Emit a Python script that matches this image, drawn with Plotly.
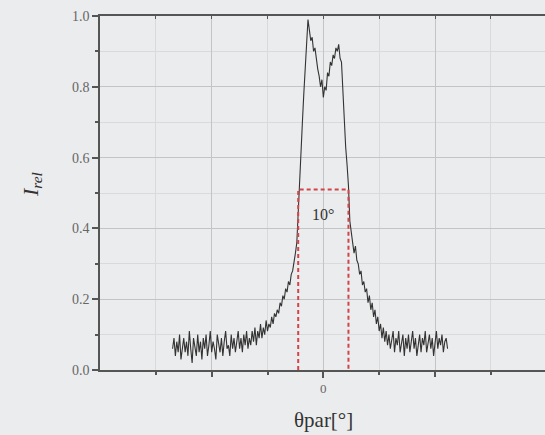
import plotly.graph_objects as go

# Angle samples (degrees) and relative intensity, rows of 8
theta = [
    -27.0, -26.75, -26.5, -26.25, -26.0, -25.75, -25.5, -25.25,
    -25.0, -24.75, -24.5, -24.25, -24.0, -23.75, -23.5, -23.25,
    -23.0, -22.75, -22.5, -22.25, -22.0, -21.75, -21.5, -21.25,
    -21.0, -20.75, -20.5, -20.25, -20.0, -19.75, -19.5, -19.25,
    -19.0, -18.75, -18.5, -18.25, -18.0, -17.75, -17.5, -17.25,
    -17.0, -16.75, -16.5, -16.25, -16.0, -15.75, -15.5, -15.25,
    -15.0, -14.75, -14.5, -14.25, -14.0, -13.75, -13.5, -13.25,
    -13.0, -12.75, -12.5, -12.25, -12.0, -11.75, -11.5, -11.25,
    -11.0, -10.75, -10.5, -10.25, -10.0, -9.75, -9.5, -9.25,
    -9.0, -8.75, -8.5, -8.25, -8.0, -7.75, -7.5, -7.25,
    -7.0, -6.75, -6.5, -6.25, -6.0, -5.75, -5.5, -5.25,
    -5.0, -4.75, -4.5, -4.25, -4.0, -3.75, -3.5, -3.25,
    -3.0, -2.75, -2.5, -2.25, -2.0, -1.75, -1.5, -1.25,
    -1.0, -0.75, -0.5, -0.25, 0.0, 0.25, 0.5, 0.75,
    1.0, 1.25, 1.5, 1.75, 2.0, 2.25, 2.5, 2.75,
    3.0, 3.25, 3.5, 3.75, 4.0, 4.25, 4.5, 4.75,
    5.0, 5.25, 5.5, 5.75, 6.0, 6.25, 6.5, 6.75,
    7.0, 7.25, 7.5, 7.75, 8.0, 8.25, 8.5, 8.75,
    9.0, 9.25, 9.5, 9.75, 10.0, 10.25, 10.5, 10.75,
    11.0, 11.25, 11.5, 11.75, 12.0, 12.25, 12.5, 12.75,
    13.0, 13.25, 13.5, 13.75, 14.0, 14.25, 14.5, 14.75,
    15.0, 15.25, 15.5, 15.75, 16.0, 16.25, 16.5, 16.75,
    17.0, 17.25, 17.5, 17.75, 18.0, 18.25, 18.5, 18.75,
    19.0, 19.25, 19.5, 19.75, 20.0, 20.25, 20.5, 20.75,
    21.0, 21.25, 21.5, 21.75, 22.0, 22.25,
]
i_rel = [
    0.06, 0.09, 0.04, 0.08, 0.05, 0.10, 0.03, 0.07,
    0.09, 0.05, 0.08, 0.04, 0.11, 0.06, 0.02, 0.09,
    0.07, 0.04, 0.10, 0.05, 0.08, 0.03, 0.09, 0.06,
    0.10, 0.04, 0.07, 0.11, 0.05, 0.08, 0.06, 0.03,
    0.10, 0.07, 0.05, 0.09, 0.04, 0.08, 0.11, 0.06,
    0.07, 0.04, 0.10, 0.06, 0.09, 0.05, 0.08, 0.11,
    0.06, 0.09, 0.05, 0.10, 0.07, 0.11, 0.06, 0.09,
    0.07, 0.11, 0.08, 0.12, 0.07, 0.11, 0.09, 0.13,
    0.09, 0.12, 0.10, 0.14, 0.11, 0.13, 0.12, 0.15,
    0.13, 0.16, 0.15, 0.17, 0.16, 0.19, 0.18, 0.21,
    0.20, 0.23, 0.22, 0.25, 0.24, 0.27, 0.28, 0.30,
    0.33, 0.36, 0.45, 0.56, 0.64, 0.70, 0.78, 0.86,
    0.94, 0.99, 0.96, 0.93, 0.94, 0.90, 0.91, 0.87,
    0.85, 0.83, 0.80, 0.82, 0.77, 0.80, 0.79, 0.84,
    0.83, 0.87, 0.86, 0.89, 0.88, 0.91, 0.90, 0.92,
    0.88, 0.87, 0.78, 0.70, 0.63, 0.58, 0.52, 0.42,
    0.38, 0.36, 0.33, 0.35, 0.31, 0.30, 0.27, 0.28,
    0.24, 0.25, 0.22, 0.23, 0.19, 0.21, 0.17, 0.19,
    0.15, 0.17, 0.13, 0.15, 0.11, 0.13, 0.09, 0.12,
    0.08, 0.11, 0.07, 0.10, 0.06, 0.09, 0.11, 0.05,
    0.09, 0.07, 0.11, 0.05, 0.08, 0.10, 0.04, 0.09,
    0.06, 0.10, 0.05, 0.08, 0.11, 0.06, 0.09, 0.04,
    0.08, 0.10, 0.05, 0.09, 0.07, 0.11, 0.05, 0.08,
    0.10, 0.06, 0.09, 0.04, 0.08, 0.11, 0.06, 0.09,
    0.07, 0.10, 0.05, 0.08, 0.09, 0.06,
]

# 10-degree marker box (half-maximum window)
box_x = [-4.5, -4.5, 4.5, 4.5]
box_y = [0.0, 0.51, 0.51, 0.0]
box_label = "10°"

x_label_ticks = [0]
x_label_text = ["0"]
x_side_major = [-20, 20]
x_minor = [-30, -10, 10, 30]
y_major = [0.0, 0.2, 0.4, 0.6, 0.8, 1.0]
y_major_text = ["0.0", "0.2", "0.4", "0.6", "0.8", "1.0"]

SERIF = "Liberation Serif"
BG = "#ebeced"
AX = "#555555"
GRID_MAJ = "#c2c4c6"
GRID_MIN = "#d8dadb"
XRANGE = [-40, 39.7]

fig = go.Figure()
fig.add_trace(go.Scatter(x=theta, y=i_rel, mode="lines",
                         line=dict(color="#333333", width=1.1),
                         showlegend=False, hoverinfo="skip"))
fig.add_trace(go.Scatter(x=box_x, y=box_y, mode="lines",
                         line=dict(color="#d2434a", width=2, dash="4px,3px"),
                         showlegend=False, hoverinfo="skip"))
fig.add_trace(go.Scatter(x=[None], y=[None], xaxis="x2", showlegend=False,
                         hoverinfo="skip"))
fig.add_trace(go.Scatter(x=[None], y=[None], xaxis="x3", showlegend=False,
                         hoverinfo="skip"))

fig.add_annotation(x=0, y=0.44, xref="x", yref="y", text=box_label,
                   showarrow=False, font=dict(family=SERIF, size=16, color="#333333"))
fig.add_annotation(x=0, y=-0.141, xref="x", yref="paper", text="θpar[°]",
                   showarrow=False, yanchor="middle",
                   font=dict(family=SERIF, size=21, color="#333333"))
fig.add_annotation(x=-0.153, y=0.525, xref="paper", yref="paper",
                   text="<i>I<sub>rel</sub></i>", textangle=-90,
                   showarrow=False, xanchor="center", yanchor="middle",
                   font=dict(family=SERIF, size=22, color="#333333"))

fig.update_layout(
    width=545, height=435,
    margin=dict(l=100, r=0, t=16, b=65),
    paper_bgcolor=BG, plot_bgcolor=BG,
    xaxis=dict(range=XRANGE, tickmode="array", tickvals=x_label_ticks,
               ticktext=x_label_text, ticks="outside", ticklen=6,
               tickwidth=1.5, tickcolor=AX, showline=True, linecolor=AX,
               linewidth=1.5, mirror=True, showgrid=True, gridcolor=GRID_MAJ,
               gridwidth=1, zeroline=False,
               tickfont=dict(family=SERIF, size=13, color="#666666"),
               minor=dict(tickmode="array", tickvals=x_minor, ticks="outside",
                          ticklen=3, tickcolor=AX, showgrid=True,
                          gridcolor=GRID_MIN, gridwidth=1)),
    xaxis2=dict(range=XRANGE, overlaying="x", side="bottom", anchor="y",
                tickmode="array", tickvals=x_side_major, ticks="outside",
                ticklen=6, tickwidth=1.5, tickcolor=AX, showticklabels=False,
                showgrid=True, gridcolor=GRID_MAJ, zeroline=False, showline=False),
    xaxis3=dict(range=XRANGE, overlaying="x", side="top", anchor="y",
                tickmode="array", tickvals=x_side_major + x_label_ticks + x_minor,
                ticks="inside", ticklen=3, tickwidth=1.2, tickcolor=AX,
                showticklabels=False, showgrid=False, zeroline=False,
                showline=False),
    yaxis=dict(range=[0, 1.0], tickmode="array", tickvals=y_major,
               ticktext=y_major_text, ticks="outside", ticklen=6,
               tickwidth=1.5, tickcolor=AX, showline=True, linecolor=AX,
               linewidth=1.5, showgrid=True, gridcolor=GRID_MAJ,
               zeroline=False,
               tickfont=dict(family=SERIF, size=14, color="#666666"),
               minor=dict(dtick=0.1, ticks="outside", ticklen=3,
                          tickcolor=AX, showgrid=True, gridcolor=GRID_MIN)),
)

fig.write_html(
    "out.html",
    config={"displayModeBar": False},
    post_script="document.body.style.margin='0';"
                "document.body.style.background='" + BG + "';",
)
